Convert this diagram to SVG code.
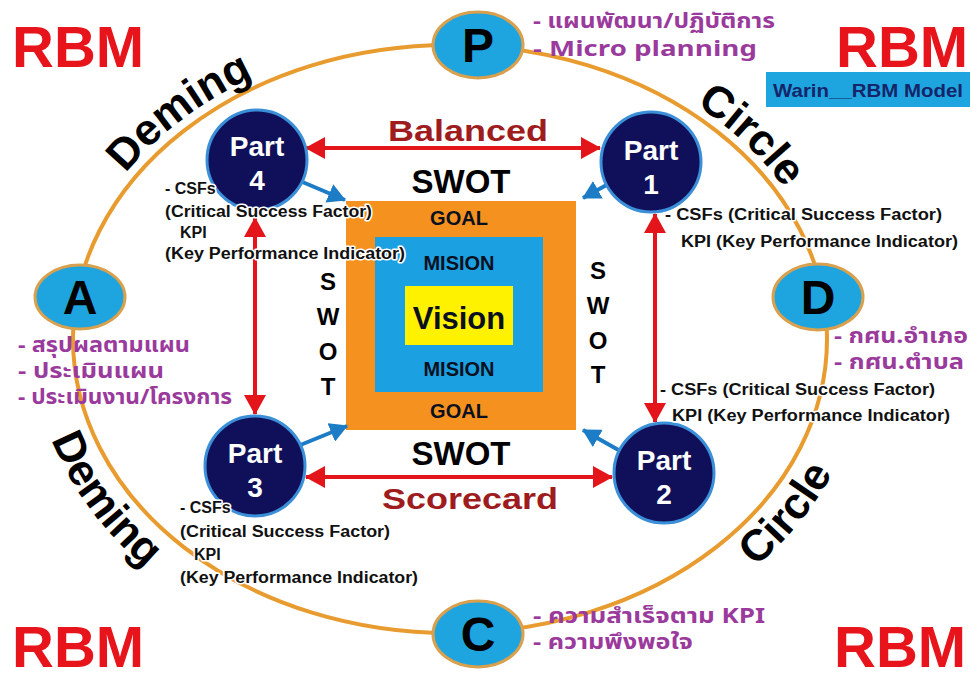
<svg xmlns="http://www.w3.org/2000/svg" width="972" height="680" viewBox="0 0 972 680">
<style>
.rbm{font-family:"Liberation Sans",Arial,sans-serif;font-weight:bold;font-size:58px;fill:#E8141B}
.arc{font-family:"Liberation Sans",Arial,sans-serif;font-weight:bold;font-size:44px;fill:#000}
.pdca{fill:#1EA5E0;stroke:#D9A04E;stroke-width:3}
.letter{font-family:"Liberation Sans",Arial,sans-serif;font-weight:bold;font-size:48px;fill:#000;text-anchor:middle}
.thai{font-family:"Noto Sans Thai","Noto Sans","DejaVu Sans",sans-serif;font-weight:bold;font-size:22px;fill:#9A3A9C}
.partc{fill:#10105A;stroke:#3A8FD8;stroke-width:3}
.part{font-family:"Liberation Sans",Arial,sans-serif;font-weight:bold;font-size:28px;fill:#fff;text-anchor:middle}
.note{font-family:"Liberation Sans",Arial,sans-serif;font-weight:bold;font-size:16px;fill:#111;stroke:#fff;stroke-width:3;paint-order:stroke;stroke-linejoin:round}
.swot{font-family:"Liberation Sans",Arial,sans-serif;font-weight:bold;fill:#000;text-anchor:middle}
.box{font-family:"Liberation Sans",Arial,sans-serif;font-weight:bold;fill:#0B1020;text-anchor:middle}
.bal{font-family:"Liberation Sans",Arial,sans-serif;font-weight:bold;font-size:30px;fill:#9E1B1E;text-anchor:middle}
.red{stroke:#E3151A;stroke-width:4;fill:none;marker-start:url(#ra);marker-end:url(#ra)}
.blue{stroke:#1C7CC5;stroke-width:4;fill:none;marker-end:url(#ba)}
</style>
<defs>
<marker id="ra" viewBox="0 0 20 22" refX="19" refY="11" markerWidth="20" markerHeight="22" markerUnits="userSpaceOnUse" orient="auto-start-reverse"><path d="M0,0 L20,11 L0,22 z" fill="#E3151A"/></marker>
<marker id="ba" viewBox="0 0 18 20" refX="17" refY="10" markerWidth="18" markerHeight="20" markerUnits="userSpaceOnUse" orient="auto"><path d="M0,0 L18,10 L0,20 z" fill="#1C7CC5"/></marker>
<path id="arcTL" d="M 63 339 A 387 304 0 0 1 450 35"/>
<path id="arcTR" d="M 450 35 A 385 304 0 0 1 835 339"/>
<path id="arcBR" d="M 450 673 A 418 334 0 0 0 868 339"/>
<path id="arcBL" d="M 32 339 A 418 334 0 0 0 450 673"/>
</defs>
<rect width="972" height="680" fill="#fff"/>

<g id="cycle">
<ellipse cx="450" cy="339" rx="377" ry="294" fill="none" stroke="#E89B2E" stroke-width="4"/>
</g>

<g id="titles">
<text class="rbm" x="12" y="67">RBM</text>
<text class="rbm" x="836" y="67">RBM</text>
<text class="rbm" x="12" y="667">RBM</text>
<text class="rbm" x="834" y="667">RBM</text>
<rect x="766" y="72" width="204" height="35" fill="#1EA5E0"/>
<text x="868" y="97" text-anchor="middle" font-family="Liberation Sans, Arial, sans-serif" font-weight="bold" font-size="19" fill="#16256A" textLength="190" lengthAdjust="spacingAndGlyphs">Warin__RBM  Model</text>
<text class="arc"><textPath href="#arcTL" startOffset="48%" text-anchor="middle">Deming</textPath></text>
<text class="arc"><textPath href="#arcTR" startOffset="59%" text-anchor="middle">Circle</textPath></text>
<text class="arc"><textPath href="#arcBR" startOffset="66%" text-anchor="middle">Circle</textPath></text>
<text class="arc"><textPath href="#arcBL" startOffset="31%" text-anchor="middle">Deming</textPath></text>
</g>

<g id="center">
<rect x="346" y="201" width="230" height="229" fill="#F5911E"/>
<rect x="375" y="237" width="168" height="155" fill="#1BA1E2"/>
<rect x="405" y="286" width="108" height="59" fill="#FFF200"/>
<text class="box" x="459" y="225" font-size="20">GOAL</text>
<text class="box" x="459" y="270" font-size="20">MISION</text>
<text class="box" x="459" y="329" font-size="31">Vision</text>
<text class="box" x="459" y="376" font-size="20">MISION</text>
<text class="box" x="459" y="418" font-size="20">GOAL</text>
<text class="swot" x="461" y="193" font-size="33">SWOT</text>
<text class="swot" x="461" y="465" font-size="33">SWOT</text>
<text class="swot" font-size="24" x="328"><tspan x="328" y="290">S</tspan><tspan x="328" y="325">W</tspan><tspan x="328" y="360">O</tspan><tspan x="328" y="395">T</tspan></text>
<text class="swot" font-size="24" x="598"><tspan x="598" y="279">S</tspan><tspan x="598" y="314">W</tspan><tspan x="598" y="349">O</tspan><tspan x="598" y="383">T</tspan></text>
<text class="bal" x="468" y="141" textLength="160" lengthAdjust="spacingAndGlyphs">Balanced</text>
<text class="bal" x="470" y="509" textLength="176" lengthAdjust="spacingAndGlyphs">Scorecard</text>
</g>

<g id="connectors">
<line class="red" x1="306" y1="148" x2="600" y2="148"/>
<line class="red" x1="306" y1="477" x2="612" y2="477"/>
<line class="red" x1="255" y1="218" x2="255" y2="414"/>
<line class="red" x1="655" y1="214" x2="655" y2="422"/>
<line class="blue" x1="293" y1="178" x2="345" y2="200"/>
<line class="blue" x1="612" y1="182" x2="583" y2="198"/>
<line class="blue" x1="293" y1="448" x2="347" y2="426"/>
<line class="blue" x1="622" y1="452" x2="583" y2="430"/>
</g>

<g id="P">
<ellipse class="pdca" cx="478" cy="45" rx="45" ry="33"/>
<text class="letter" x="478" y="62">P</text>
<text class="thai" x="533" y="28" textLength="242" lengthAdjust="spacingAndGlyphs">-  แผนพัฒนา/ปฏิบัติการ</text>
<text class="thai" x="533" y="56" textLength="224" lengthAdjust="spacingAndGlyphs">-  Micro  planning</text>
</g>
<g id="A">
<ellipse class="pdca" cx="80" cy="297" rx="45" ry="32"/>
<text class="letter" x="80" y="314">A</text>
<text class="thai" x="18" y="352" textLength="172" lengthAdjust="spacingAndGlyphs">- สรุปผลตามแผน</text>
<text class="thai" x="18" y="378" textLength="146" lengthAdjust="spacingAndGlyphs">- ประเมินแผน</text>
<text class="thai" x="18" y="404" textLength="214" lengthAdjust="spacingAndGlyphs">- ประเมินงาน/โครงการ</text>
</g>
<g id="D">
<ellipse class="pdca" cx="818" cy="297" rx="45" ry="33"/>
<text class="letter" x="818" y="314">D</text>
<text class="thai" x="834" y="343" textLength="134" lengthAdjust="spacingAndGlyphs">-  กศน.อำเภอ</text>
<text class="thai" x="834" y="369" textLength="130" lengthAdjust="spacingAndGlyphs">-  กศน.ตำบล</text>
</g>
<g id="C">
<ellipse class="pdca" cx="478" cy="634" rx="45" ry="33"/>
<text class="letter" x="478" y="651">C</text>
<text class="thai" x="533" y="623" textLength="232" lengthAdjust="spacingAndGlyphs">-  ความสำเร็จตาม  KPI</text>
<text class="thai" x="533" y="649" textLength="160" lengthAdjust="spacingAndGlyphs">-  ความพึงพอใจ</text>
</g>

<g id="part4">
<circle class="partc" cx="257" cy="160" r="50"/>
<text class="part" x="257" y="156">Part</text>
<text class="part" x="257" y="190">4</text>
<text class="note" x="165" y="194">- CSFs</text>
<text class="note" x="165" y="217" textLength="207" lengthAdjust="spacingAndGlyphs">(Critical  Success  Factor)</text>
<text class="note" x="180" y="238">KPI</text>
<text class="note" x="165" y="259" textLength="240" lengthAdjust="spacingAndGlyphs">(Key  Performance  Indicator)</text>
</g>
<g id="part1">
<circle class="partc" cx="651" cy="162" r="50"/>
<text class="part" x="651" y="160">Part</text>
<text class="part" x="651" y="194">1</text>
<text class="note" x="665" y="220" textLength="277" lengthAdjust="spacingAndGlyphs">- CSFs  (Critical  Success  Factor)</text>
<text class="note" x="681" y="247" textLength="277" lengthAdjust="spacingAndGlyphs">KPI  (Key  Performance  Indicator)</text>
</g>
<g id="part3">
<circle class="partc" cx="255" cy="466" r="50"/>
<text class="part" x="255" y="463">Part</text>
<text class="part" x="255" y="497">3</text>
<text class="note" x="180" y="513">- CSFs</text>
<text class="note" x="180" y="537" textLength="210" lengthAdjust="spacingAndGlyphs">(Critical  Success  Factor)</text>
<text class="note" x="194" y="560">KPI</text>
<text class="note" x="180" y="583" textLength="238" lengthAdjust="spacingAndGlyphs">(Key  Performance  Indicator)</text>
</g>
<g id="part2">
<circle class="partc" cx="664" cy="473" r="50"/>
<text class="part" x="664" y="470">Part</text>
<text class="part" x="664" y="504">2</text>
<text class="note" x="660" y="395" textLength="275" lengthAdjust="spacingAndGlyphs">- CSFs  (Critical  Success  Factor)</text>
<text class="note" x="672" y="421" textLength="278" lengthAdjust="spacingAndGlyphs">KPI  (Key  Performance  Indicator)</text>
</g>
</svg>
